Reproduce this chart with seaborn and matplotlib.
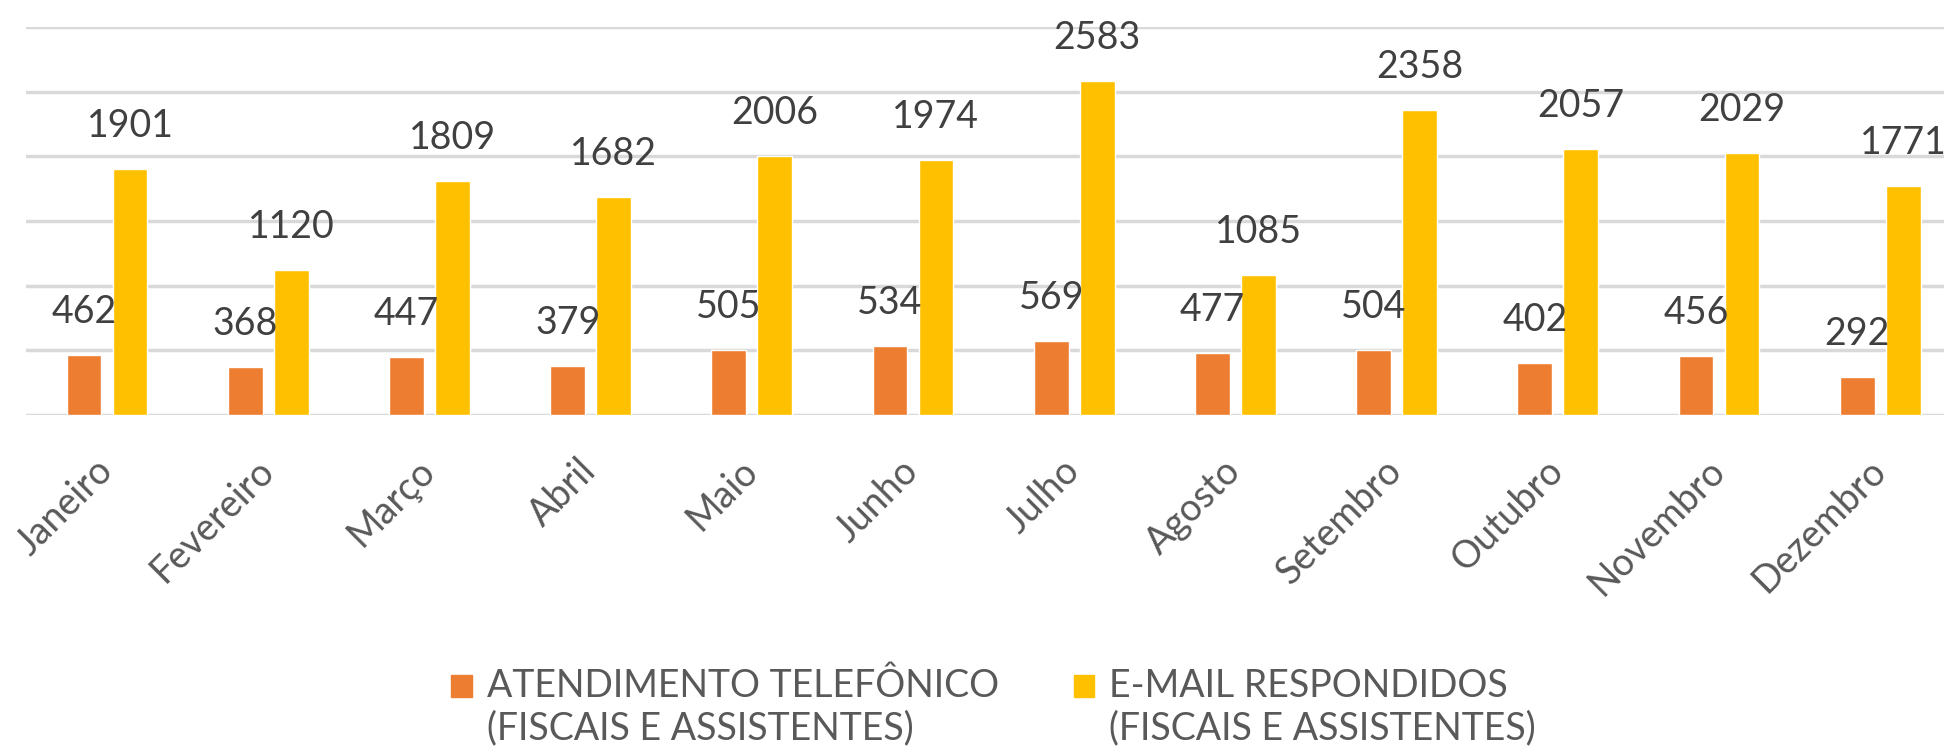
import pandas as pd
import matplotlib
matplotlib.use("Agg")
import matplotlib.pyplot as plt
import matplotlib.patches as mpatches
from matplotlib.legend_handler import HandlerPatch
import seaborn as sns

meses = ["Janeiro", "Fevereiro", "Março", "Abril", "Maio", "Junho",
         "Julho", "Agosto", "Setembro", "Outubro", "Novembro", "Dezembro"]
telefone = [462, 368, 447, 379, 505, 534, 569, 477, 504, 402, 456, 292]
email = [1901, 1120, 1809, 1682, 2006, 1974, 2583, 1085, 2358, 2057, 2029, 1771]
series = ["ATENDIMENTO TELEFÔNICO\n(FISCAIS E ASSISTENTES)",
          "E-MAIL RESPONDIDOS\n(FISCAIS E ASSISTENTES)"]
cores = ["#ED7D31", "#FFC000"]

df = pd.DataFrame({
    "mes": meses * 2,
    "valor": telefone + email,
    "serie": [series[0]] * len(meses) + [series[1]] * len(meses),
})

sns.set_style("white")
plt.rcParams["font.family"] = ["Lato", "DejaVu Sans"]

fig = plt.figure(figsize=(19.44, 7.55), dpi=100)
ax = fig.add_axes([0.01358, 0.45033, 0.99506, 0.5139])

sns.barplot(data=df, x="mes", y="valor", hue="serie", palette=cores,
            width=0.57, gap=0.24, saturation=1, errorbar=None,
            legend=False, ax=ax, zorder=3)

ax.set_xlim(-0.5, len(meses) - 0.5)
ax.set_ylim(0, 3000)
ax.set_yticks(range(0, 3001, 500))
ax.set_yticklabels([])
ax.grid(axis="y", color="#D9D9D9", linewidth=2.5, zorder=0)
ax.set_axisbelow(True)
for s in ax.spines.values():
    s.set_visible(False)
ax.set_xlabel("")
ax.set_ylabel("")
ax.tick_params(axis="both", length=0)
ax.tick_params(axis="x", pad=36)
ax.set_xticks(range(len(meses)))
ax.set_xticklabels(meses, rotation=45, ha="right", va="center",
                   rotation_mode="anchor", fontsize=27, color="#595959")

for cont in ax.containers:
    ax.bar_label(cont, fmt="%d", padding=18, fontsize=27, color="#404040")


def top_square(legend, orig_handle, xdescent, ydescent, width, height, fontsize):
    return mpatches.Rectangle((-xdescent, -ydescent + 0.6 * fontsize), width, height)


handles = [mpatches.Patch(color=c) for c in cores]
ax.legend(handles, series, loc="center", bbox_to_anchor=(0.5, -0.753),
          ncol=2, frameon=False, fontsize=27, labelcolor="#595959",
          handlelength=0.55, handleheight=0.55, handletextpad=0.4,
          columnspacing=2.0,
          handler_map={mpatches.Patch: HandlerPatch(patch_func=top_square)})

fig.savefig("out.png", dpi=100)
